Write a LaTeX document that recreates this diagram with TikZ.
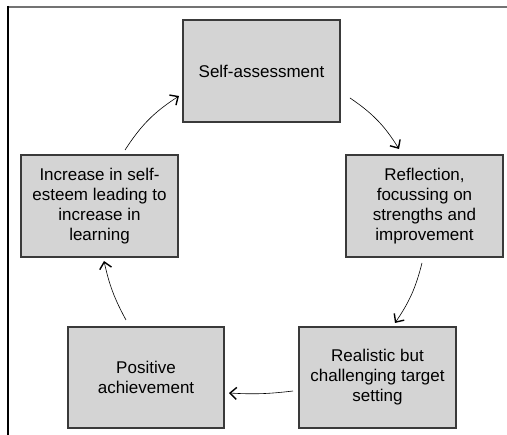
\documentclass[tikz,border=0pt]{standalone}
\usepackage{fontspec}
\setmainfont{Liberation Sans}
\usetikzlibrary{arrows.meta}
\definecolor{boxfill}{HTML}{D4D4D4}
\definecolor{boxline}{HTML}{3A3A3A}
\definecolor{topline}{HTML}{737373}
\begin{document}
\begin{tikzpicture}[x=1pt,y=-1pt,
  cyclebox/.style={draw=boxline, line width=1.3pt, fill=boxfill, align=center,
    font=\fontsize{17}{20}\selectfont, inner sep=0pt},
  cyclearrow/.style={draw=black, line width=0.6pt, -{Straight Barb[length=6.5pt,width=12pt,line width=1.4pt]}}]
\useasboundingbox (0,0) rectangle (507,435);
\draw[topline, line width=2pt] (8,7) -- (507,7);
\draw[black, line width=1.3pt] (8,6) -- (8,435);
\node[cyclebox, minimum width=157pt, minimum height=102pt] (sa) at (261.5,71) {Self-assessment};
\node[cyclebox, minimum width=157pt, minimum height=102pt] (re) at (424.5,206) {Reflection,\\focussing on\\strengths and\\improvement};
\node[cyclebox, minimum width=157pt, minimum height=101pt] (rt) at (377.5,377.5) {Realistic but\\challenging target\\setting};
\node[cyclebox, minimum width=156pt, minimum height=101pt] (pa) at (146,377.5) {Positive\\achievement};
\node[cyclebox, minimum width=157pt, minimum height=102pt] (in) at (99.5,206) {Increase in self-\\esteem leading to\\increase in\\learning};
\coordinate (a1s) at (125,150);
\coordinate (a1e) at (179,96);
\coordinate (a2s) at (350,98);
\coordinate (a2e) at (399,149);
\coordinate (a3s) at (422,263);
\coordinate (a3e) at (395,323);
\coordinate (a4s) at (293,391);
\coordinate (a4e) at (229,393);
\coordinate (a5s) at (126,320);
\coordinate (a5e) at (104,261);
\draw[cyclearrow] (a1s) to[bend left=12] (a1e);
\draw[cyclearrow] (a2s) to[bend left=12] (a2e);
\draw[cyclearrow] (a3s) to[bend left=10] (a3e);
\draw[cyclearrow] (a4s) to[bend left=5] (a4e);
\draw[cyclearrow] (a5s) to[bend left=8] (a5e);
\end{tikzpicture}
\end{document}
